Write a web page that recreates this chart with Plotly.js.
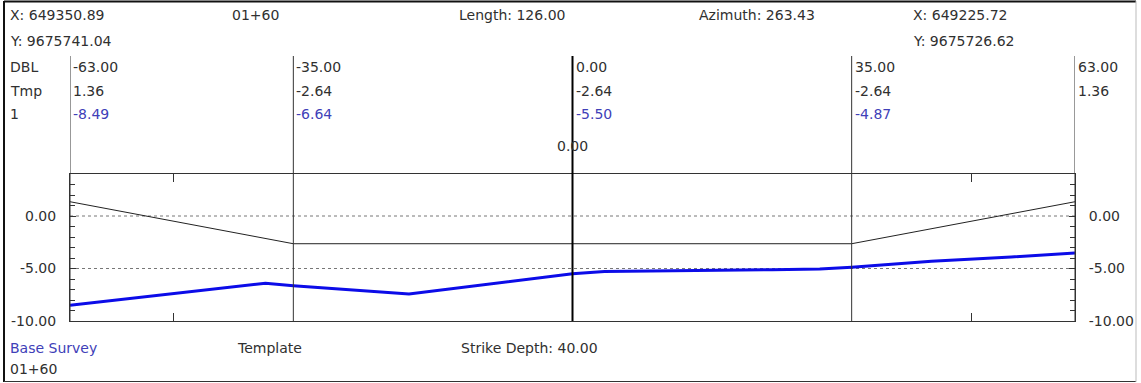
<!DOCTYPE html>
<html>
<head>
<meta charset="utf-8">
<script src="https://cdn.plot.ly/plotly-3.0.1.min.js"></script>
<style>
  html, body { margin: 0; padding: 0; background: #ffffff; }
  #chart { width: 1141px; height: 383px; }
</style>
</head>
<body>
<div id="chart"></div>
<script>
// ---- data ----
const offsets = [-63, -35, 0, 35, 63];                 // DBL column offsets
const templateValues = [1.36, -2.64, -2.64, -2.64, 1.36]; // Tmp row
const surveyAtOffsets = [-8.49, -6.64, -5.50, -4.87, null]; // row "1"
const surveyX = [-63, -38.5, -35, -20.5, 0, 4, 25, 31, 35, 45, 55, 63];
const surveyY = [-8.49, -6.40, -6.64, -7.43, -5.50, -5.28, -5.12, -5.05, -4.87, -4.32, -3.90, -3.52];
const yTickVals = [-10, -5, 0];
const startPoint = ['X: 649350.89', 'Y: 9675741.04'];
const endPoint = ['X: 649225.72', 'Y: 9675726.62'];
const station = '01+60';
const lengthText = 'Length: 126.00';
const azimuthText = 'Azimuth: 263.43';
const rowLabels = ['DBL', 'Tmp', '1'];
const footerTexts = ['Base Survey', 'Template', 'Strike Depth: 40.00'];
const centerLabel = '0.00';

// ---- layout geometry ----
const W = 1141, H = 383;
const L = 70, R = 1075, T = 174, B = 321;
const pw = R - L, ph = B - T;
const px = x => (x - L) / pw;
const py = y => (B - y) / ph;

const FONT = 'DejaVu Sans, Arial, sans-serif';
const FS = 14;
const TXT = '#303030';
const BLUE_TXT = '#4040b8';

const fmt = v => v.toFixed(2);

const traces = [
  {
    x: offsets, y: templateValues, type: 'scatter', mode: 'lines',
    line: {color: '#222222', width: 1}, hoverinfo: 'skip', showlegend: false
  },
  {
    x: surveyX, y: surveyY, type: 'scatter', mode: 'lines',
    line: {color: '#0c0ce8', width: 3}, hoverinfo: 'skip', showlegend: false
  },
  {
    x: [null], y: [null], yaxis: 'y2', type: 'scatter', mode: 'lines',
    hoverinfo: 'skip', showlegend: false
  }
];

const annotations = [];
function txt(text, x, y, opts) {
  annotations.push(Object.assign({
    text: text, x: px(x), y: py(y), xref: 'paper', yref: 'paper',
    xanchor: 'left', yanchor: 'middle', showarrow: false,
    font: {family: FONT, size: FS, color: TXT}
  }, opts || {}));
}

// header rows
txt(startPoint[0], 8, 15);
txt(station, 230, 15);
txt(lengthText, 457, 15);
txt(azimuthText, 697, 15);
txt(endPoint[0], 911, 15);
txt(startPoint[1], 8, 41);
txt(endPoint[1], 911, 41);

// table rows
const rowY = [67, 91, 114];
rowLabels.forEach((lab, i) => txt(lab, 8, rowY[i]));
offsets.forEach((o, i) => {
  const common = {xref: 'x', x: o, xanchor: 'left', xshift: 1};
  annotations.push(Object.assign({}, common, {
    text: fmt(o), y: py(rowY[0]), yref: 'paper', yanchor: 'middle', showarrow: false,
    font: {family: FONT, size: FS, color: TXT}
  }));
  annotations.push(Object.assign({}, common, {
    text: fmt(templateValues[i]), y: py(rowY[1]), yref: 'paper', yanchor: 'middle', showarrow: false,
    font: {family: FONT, size: FS, color: TXT}
  }));
  if (surveyAtOffsets[i] !== null) {
    annotations.push(Object.assign({}, common, {
      text: fmt(surveyAtOffsets[i]), y: py(rowY[2]), yref: 'paper', yanchor: 'middle', showarrow: false,
      font: {family: FONT, size: FS, color: BLUE_TXT}
    }));
  }
});

// centre label
annotations.push({
  text: centerLabel, xref: 'x', x: 0, yref: 'paper', y: py(146), xanchor: 'center', yanchor: 'middle',
  showarrow: false, font: {family: FONT, size: FS, color: TXT}
});

// footer
txt(footerTexts[0], 8, 348, {font: {family: FONT, size: FS, color: BLUE_TXT}});
txt(footerTexts[1], 235, 348);
txt(footerTexts[2], 459, 348);
txt(station, 8, 369);

// shapes
const shapes = [];
// column lines extending above plot
offsets.forEach(o => {
  shapes.push({
    type: 'line', xref: 'x', yref: 'paper', x0: o, x1: o, y0: 0, y1: py(56),
    line: {color: o === 0 ? '#000000' : '#333333', width: o === 0 ? 2 : 1}, layer: 'above'
  });
});
// dotted reference lines
[0, -5].forEach(v => {
  shapes.push({
    type: 'line', xref: 'paper', yref: 'y', x0: 0, x1: 1, y0: v, y1: v,
    line: {color: '#777777', width: 1, dash: 'dot'}, layer: 'below'
  });
});
// outer frame
shapes.push({type: 'line', xref: 'paper', yref: 'paper', x0: px(4), x1: px(1136), y0: py(1.5), y1: py(1.5), line: {color: '#111', width: 2}});
shapes.push({type: 'line', xref: 'paper', yref: 'paper', x0: px(4), x1: px(4), y0: py(1), y1: py(382), line: {color: '#111', width: 2}});
shapes.push({type: 'line', xref: 'paper', yref: 'paper', x0: px(4), x1: px(1136), y0: py(381.5), y1: py(381.5), line: {color: '#333', width: 1}});
shapes.push({type: 'line', xref: 'paper', yref: 'paper', x0: px(1136), x1: px(1136), y0: py(1), y1: py(382), line: {color: '#bbbbbb', width: 1}});

const yCommon = {
  range: [-10, 4], tickmode: 'array', tickvals: yTickVals, ticktext: yTickVals.map(fmt),
  showgrid: false, zeroline: false, showline: true, linecolor: '#333333', linewidth: 1,
  ticks: 'inside', ticklen: 6, tickcolor: '#333333',
  minor: {tickmode: 'linear', tick0: 0, dtick: 1, ticks: 'inside', ticklen: 5, tickcolor: '#333333', showgrid: false},
  tickfont: {family: FONT, size: FS, color: TXT}, ticklabelstandoff: 10, fixedrange: true
};

const layout = {
  width: W, height: H,
  margin: {l: L, r: W - R, t: T, b: H - B, pad: 0},
  paper_bgcolor: '#ffffff', plot_bgcolor: '#ffffff',
  showlegend: false,
  xaxis: {
    range: [-63, 63], showgrid: false, zeroline: false, showline: true, mirror: 'ticks',
    linecolor: '#333333', linewidth: 1, ticks: 'inside', tickmode: 'array', tickvals: [-50, 50],
    ticklen: 8, tickcolor: '#333333', showticklabels: false, fixedrange: true
  },
  yaxis: Object.assign({}, yCommon, {side: 'left'}),
  yaxis2: Object.assign({}, yCommon, {side: 'right', overlaying: 'y'}),
  shapes: shapes,
  annotations: annotations
};

Plotly.newPlot('chart', traces, layout, {staticPlot: true, displayModeBar: false});
</script>
</body>
</html>
